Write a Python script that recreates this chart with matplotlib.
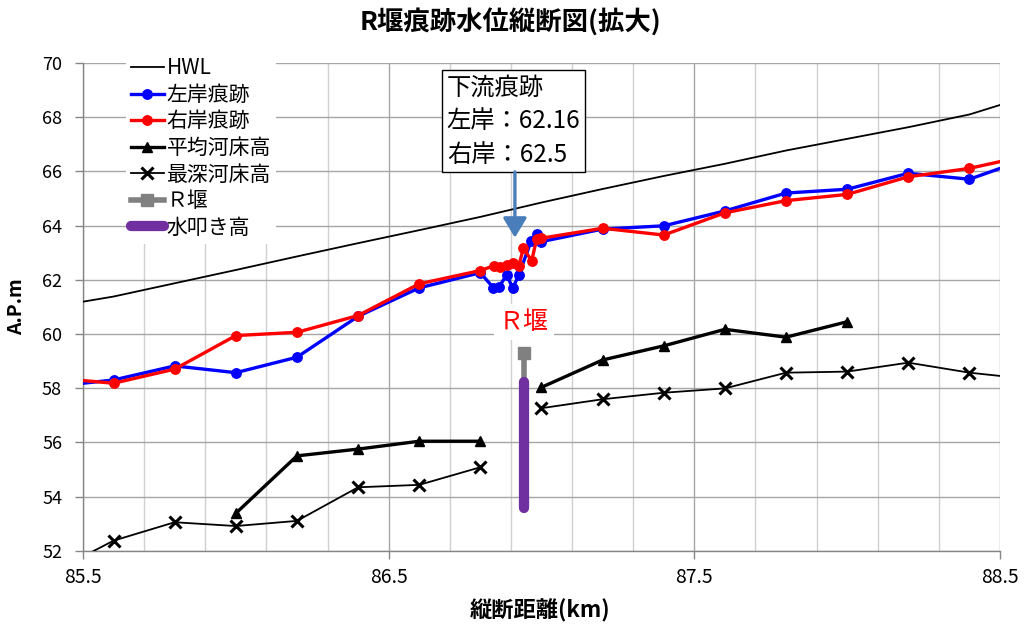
import numpy as np
import matplotlib
matplotlib.use("Agg")
import matplotlib.pyplot as plt
from matplotlib.ticker import FixedLocator

plt.rcParams['font.family'] = ['Noto Sans CJK JP', 'DejaVu Sans']

# ---- data (km, A.P.m) ----
hwl_km = [85.4, 85.6, 85.8, 86.0, 86.2, 86.4, 86.6, 86.8, 87.0, 87.2, 87.4,
          87.6, 87.8, 88.0, 88.2, 88.4, 88.6]
hwl_wl = [61.00, 61.38, 61.87, 62.36, 62.86, 63.35, 63.83, 64.32, 64.85, 65.35,
          65.83, 66.28, 66.77, 67.20, 67.63, 68.10, 68.80]

left_km = [85.4, 85.6, 85.8, 86.0, 86.2, 86.4, 86.6, 86.8, 86.842, 86.862,
           86.886, 86.906, 86.925, 86.966, 86.984, 86.997, 87.2, 87.4, 87.6,
           87.8, 88.0, 88.2, 88.4, 88.6]
left_wl = [58.06, 58.30, 58.82, 58.57, 59.14, 60.65, 61.70, 62.26, 61.71, 61.75,
           62.18, 61.69, 62.16, 63.42, 63.68, 63.40, 63.87, 63.99, 64.54, 65.20,
           65.34, 65.93, 65.71, 66.51]

right_km = [85.4, 85.6, 85.8, 86.0, 86.2, 86.4, 86.6, 86.8, 86.845, 86.864,
            86.886, 86.906, 86.925, 86.941, 86.968, 86.984, 86.998, 87.2, 87.4,
            87.6, 87.8, 88.0, 88.2, 88.4, 88.6]
right_wl = [58.38, 58.18, 58.70, 59.94, 60.06, 60.68, 61.85, 62.34, 62.52, 62.48,
            62.55, 62.62, 62.50, 63.16, 62.70, 63.50, 63.53, 63.90, 63.65,
            64.47, 64.92, 65.15, 65.80, 66.11, 66.61]

bed_km = [86.0, 86.2, 86.4, 86.6, 86.8, np.nan, 87.0, 87.2, 87.4, 87.6, 87.8, 88.0]
bed_avg = [53.38, 55.50, 55.75, 56.04, 56.04, np.nan, 58.03, 59.04, 59.56, 60.17,
           59.88, 60.45]

deep_km = [85.4, 85.6, 85.8, 86.0, 86.2, 86.4, 86.6, 86.8, np.nan, 87.0, 87.2,
           87.4, 87.6, 87.8, 88.0, 88.2, 88.4, 88.6]
deep_bed = [51.20, 52.37, 53.05, 52.91, 53.10, 54.34, 54.43, 55.08, np.nan, 57.26,
            57.59, 57.83, 57.99, 58.57, 58.61, 58.94, 58.57, 58.33]

weir_km = [86.943, 86.943]
weir_crest = [59.31, 58.24]

apron_km = [86.943, 86.943]
apron_el = [58.24, 53.57]

trace_left = 62.16
trace_right = 62.5

x_ticks = [85.5, 86.5, 87.5, 88.5]
y_ticks = list(range(52, 71, 2))

# ---- figure ----
fig = plt.figure(figsize=(10.28, 6.28), dpi=100)
ax = fig.add_axes([0.0807, 0.1231, 0.8921, 0.7766])

ax.set_xlim(85.5, 88.5)
ax.set_ylim(52, 70)

ax.xaxis.set_major_locator(FixedLocator(x_ticks))
ax.xaxis.set_minor_locator(FixedLocator(np.round(np.arange(85.5, 88.51, 0.2), 2)))
ax.yaxis.set_major_locator(FixedLocator(y_ticks))
ax.set_xticklabels(['85.5', '86.5', '87.5', '88.5'])

ax.grid(which='major', axis='y', color='#a6a6a6', lw=1.0, zorder=0)
ax.grid(which='major', axis='x', color='#a6a6a6', lw=1.0, zorder=0)
ax.grid(which='minor', axis='x', color='#d0d0d0', lw=1.0, zorder=0)
ax.set_axisbelow(True)

for s in ['top', 'right']:
    ax.spines[s].set_visible(False)
for s in ['left', 'bottom']:
    ax.spines[s].set_color('#868686')
    ax.spines[s].set_linewidth(1.0)

ax.tick_params(axis='y', which='major', length=6, width=1.0, color='#868686',
               pad=9, labelsize=13)
ax.tick_params(axis='x', which='major', length=6, width=1.0, color='#868686',
               pad=6, labelsize=14)
ax.tick_params(axis='x', which='minor', length=0)

# ---- series ----
ax.plot(hwl_km, hwl_wl, color='black', lw=1.3, label='HWL', zorder=3)
ax.plot(left_km, left_wl, color='#0000ff', lw=2.4, marker='o', ms=6.8,
        label='左岸痕跡', zorder=4)
ax.plot(right_km, right_wl, color='#ff0000', lw=2.4, marker='o', ms=6.8,
        label='右岸痕跡', zorder=5)
ax.plot(bed_km, bed_avg, color='black', lw=2.4, marker='^', ms=6.5,
        label='平均河床高', zorder=4)
ax.plot(deep_km, deep_bed, color='black', lw=1.3, marker='x', ms=8, mew=2.2,
        label='最深河床高', zorder=4)
ax.plot(weir_km, weir_crest, color='#808080', lw=4, marker='s', ms=8,
        markevery=[0], label='Ｒ堰', zorder=5)
ax.plot(apron_km, apron_el, color='#7030a0', lw=7.4, solid_capstyle='round',
        label='水叩き高', zorder=6)

# ---- weir label ----
ax.text(86.943, 60.45, 'Ｒ堰', color='#ff0000', fontsize=18, ha='center',
        va='center', zorder=7,
        bbox=dict(boxstyle='square,pad=0.2', fc='white', ec='none'))

# ---- downstream trace callout ----
ax.text(86.69, 69.55,
        f'下流痕跡\n左岸：{trace_left:g}\n右岸：{trace_right:g}',
        fontsize=17.5, ha='left', va='top', linespacing=1.36, zorder=8,
        bbox=dict(boxstyle='square,pad=0.2', fc='white', ec='black', lw=1.0))
ax.annotate('', xy=(86.913, 63.55), xytext=(86.913, 65.98),
            arrowprops=dict(arrowstyle='-|>,head_width=0.36,head_length=0.6',
                            mutation_scale=20, color='#4a7ebb', lw=2.4,
                            shrinkA=0, shrinkB=0), zorder=8)

# ---- legend ----
leg = fig.legend(loc='upper left', bbox_to_anchor=(126 / 1028, 1 - 52 / 628),
                 frameon=True, fontsize=15, handlelength=1.55,
                 handletextpad=0.15, labelspacing=0.22, borderpad=0.25,
                 borderaxespad=0)
leg.get_frame().set_facecolor('white')
leg.get_frame().set_edgecolor('none')
leg.get_frame().set_alpha(1)

# ---- titles ----
fig.text(0.497, 0.966, 'R堰痕跡水位縦断図(拡大)', fontsize=19, fontweight='bold',
         ha='center', va='center')
fig.text(0.525, 0.027, '縦断距離(km)', fontsize=16, fontweight='bold',
         ha='center', va='center')
fig.text(0.016, 0.512, 'A.P.m', fontsize=14, fontweight='bold', rotation=90,
         ha='center', va='center')

fig.savefig('out.png', dpi=100)
